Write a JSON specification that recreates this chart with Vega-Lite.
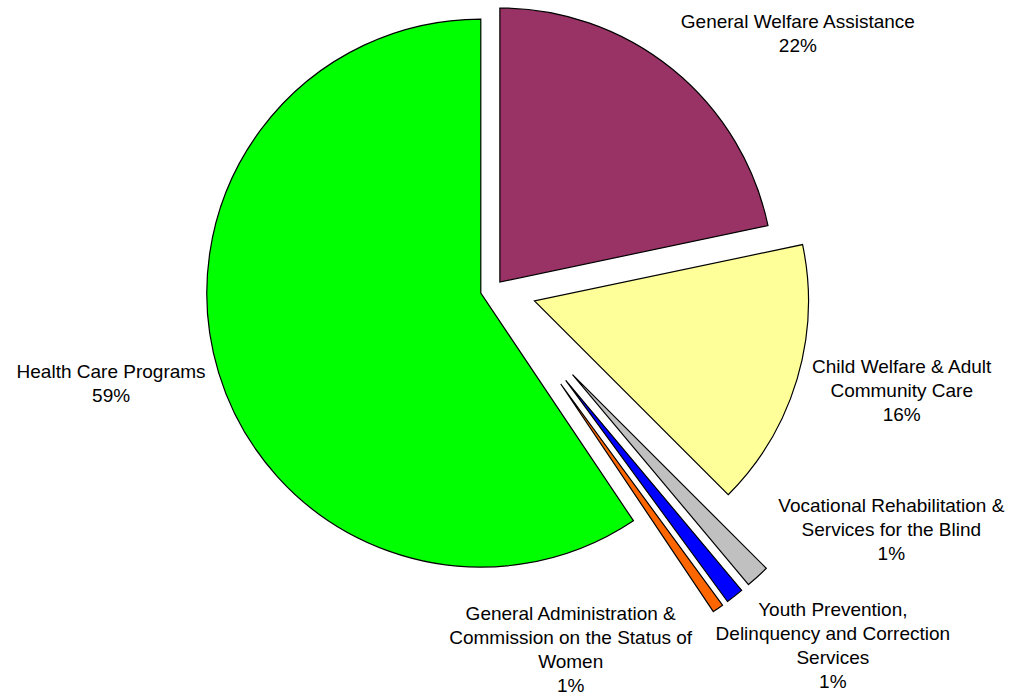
{
  "$schema": "https://vega.github.io/schema/vega-lite/v6.json",
  "width": 1015,
  "height": 698,
  "autosize": "none",
  "padding": 0,
  "background": "white",
  "config": {"view": {"stroke": null}},
  "data": {
    "values": [
      {"category": "General Welfare Assistance", "label": "General Welfare Assistance", "value": 21.7},
      {"category": "Child Welfare & Adult Community Care", "label": "Child Welfare & Adult\nCommunity Care", "value": 15.8},
      {"category": "Vocational Rehabilitation & Services for the Blind", "label": "Vocational Rehabilitation &\nServices for the Blind", "value": 1.4},
      {"category": "Youth Prevention, Delinquency and Correction Services", "label": "Youth Prevention,\nDelinquency and Correction\nServices", "value": 1.05},
      {"category": "General Administration & Commission on the Status of Women", "label": "General Administration &\nCommission on the Status of\nWomen", "value": 0.65},
      {"category": "Health Care Programs", "label": "Health Care Programs", "value": 59.4}
    ]
  },
  "transform": [
    {"stack": "value", "groupby": [], "as": ["v0", "v1"]},
    {"joinaggregate": [{"op": "sum", "field": "value", "as": "total"}]},
    {"calculate": "datum.v0 / datum.total", "as": "f0"},
    {"calculate": "datum.v1 / datum.total", "as": "f1"},
    {"calculate": "PI * (datum.f0 + datum.f1)", "as": "mid"},
    {"calculate": "datum.category === 'Health Care Programs' ? 14 : datum.category === 'General Welfare Assistance' ? 9 : datum.category === 'Child Welfare & Adult Community Care' ? 42 : 116", "as": "explode"},
    {"calculate": "datum.explode * sin(datum.mid)", "as": "cx"},
    {"calculate": "-datum.explode * cos(datum.mid)", "as": "cy"},
    {"calculate": "datum.category === 'General Welfare Assistance' ? 119 : datum.category === 'Child Welfare & Adult Community Care' ? 95 : datum.category === 'Vocational Rehabilitation & Services for the Blind' ? 127 : datum.category === 'Youth Prevention, Delinquency and Correction Services' ? 92 : datum.category === 'General Administration & Commission on the Status of Women' ? -153 : -98", "as": "nx"},
    {"calculate": "datum.category === 'General Welfare Assistance' ? -27.5 : datum.category === 'Child Welfare & Adult Community Care' ? 9 : datum.category === 'Vocational Rehabilitation & Services for the Blind' ? -54 : datum.category === 'Youth Prevention, Delinquency and Correction Services' ? 42 : datum.category === 'General Administration & Commission on the Status of Women' ? 33 : 8", "as": "ny"},
    {"calculate": "datum.label + '\\n' + format(datum.f1 - datum.f0, '.0%')", "as": "text"},
    {"calculate": "datum.cx + 284 * sin(datum.mid) + datum.nx", "as": "lx"},
    {"calculate": "datum.cy - 284 * cos(datum.mid) + datum.ny - (length(split(datum.text, '\\n')) - 1) * 12", "as": "ly"}
  ],
  "layer": [
    {
      "mark": {"type": "arc", "radius": 274, "stroke": "black", "strokeWidth": 1.2},
      "encoding": {
        "x": {"field": "cx", "type": "quantitative", "scale": {"domain": [-494.2, 520.8], "nice": false, "zero": false}, "axis": null},
        "y": {"field": "cy", "type": "quantitative", "scale": {"domain": [-289, 409], "nice": false, "zero": false, "reverse": true}, "axis": null},
        "theta": {"field": "f0", "type": "quantitative", "stack": null, "scale": {"domain": [0, 1], "range": [0, 6.283185307179586]}},
        "theta2": {"field": "f1"},
        "color": {
          "field": "category",
          "type": "nominal",
          "legend": null,
          "scale": {
            "domain": [
              "General Welfare Assistance",
              "Child Welfare & Adult Community Care",
              "Vocational Rehabilitation & Services for the Blind",
              "Youth Prevention, Delinquency and Correction Services",
              "General Administration & Commission on the Status of Women",
              "Health Care Programs"
            ],
            "range": ["#993366", "#FFFF99", "#C0C0C0", "#0000FF", "#FF6600", "#00FF00"]
          }
        }
      }
    },
    {
      "mark": {"type": "text", "font": "Liberation Sans", "fontSize": 19, "lineHeight": 24, "lineBreak": "\n", "align": "center", "baseline": "middle", "color": "black"},
      "encoding": {
        "x": {"field": "lx", "type": "quantitative"},
        "y": {"field": "ly", "type": "quantitative"},
        "text": {"field": "text"}
      }
    }
  ]
}
